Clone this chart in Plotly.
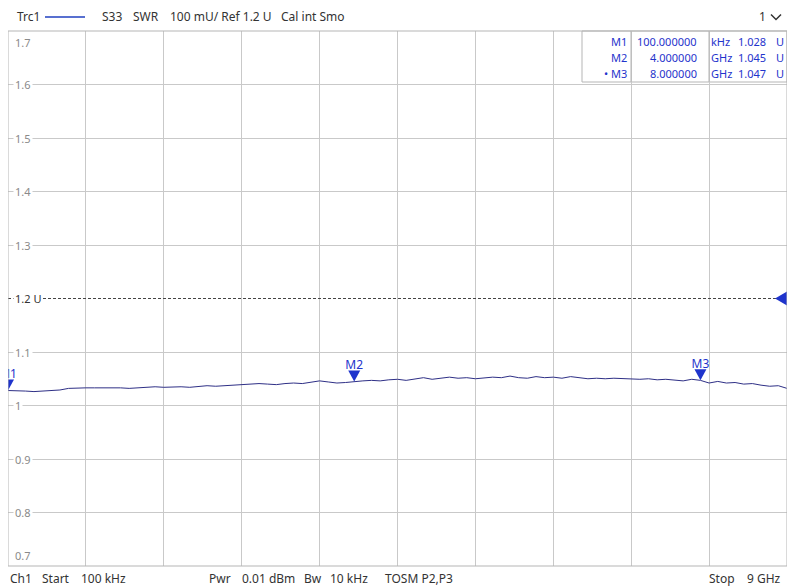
import plotly.graph_objects as go

# ---------------- data ----------------
freq_ghz = [0.0001, 0.1, 0.2, 0.3, 0.4, 0.5, 0.6, 0.7, 0.8, 0.9,
            1.0, 1.1, 1.2, 1.3, 1.4, 1.5, 1.6, 1.7, 1.8, 1.9,
            2.0, 2.1, 2.2, 2.3, 2.4, 2.5, 2.6, 2.7, 2.8, 2.9,
            3.0, 3.1, 3.2, 3.3, 3.4, 3.5, 3.6, 3.7, 3.8, 3.9,
            4.0, 4.1, 4.2, 4.3, 4.4, 4.5, 4.6, 4.7, 4.8, 4.9,
            5.0, 5.1, 5.2, 5.3, 5.4, 5.5, 5.6, 5.7, 5.8, 5.9,
            6.0, 6.1, 6.2, 6.3, 6.4, 6.5, 6.6, 6.7, 6.8, 6.9,
            7.0, 7.1, 7.2, 7.3, 7.4, 7.5, 7.6, 7.7, 7.8, 7.9,
            8.0, 8.1, 8.2, 8.3, 8.4, 8.5, 8.6, 8.7, 8.8, 8.9, 9.0]
swr = [1.028, 1.028, 1.027, 1.026, 1.027, 1.027, 1.029, 1.032, 1.033, 1.033,
       1.033, 1.033, 1.034, 1.033, 1.032, 1.033, 1.034, 1.035, 1.034, 1.035,
       1.035, 1.034, 1.036, 1.037, 1.036, 1.037, 1.038, 1.038, 1.040, 1.041,
       1.040, 1.039, 1.041, 1.042, 1.041, 1.043, 1.046, 1.044, 1.042, 1.043,
       1.045, 1.046, 1.047, 1.046, 1.048, 1.049, 1.047, 1.050, 1.052, 1.049,
       1.051, 1.053, 1.051, 1.052, 1.050, 1.051, 1.053, 1.052, 1.055, 1.052,
       1.051, 1.054, 1.052, 1.053, 1.051, 1.054, 1.052, 1.050, 1.051, 1.050,
       1.051, 1.050, 1.050, 1.049, 1.050, 1.048, 1.049, 1.048, 1.046, 1.049,
       1.047, 1.042, 1.045, 1.042, 1.043, 1.040, 1.041, 1.038, 1.036, 1.037, 1.032]

marker_names = ["M1", "M2", "M3"]
marker_freq = [0.0001, 4.0, 8.0]
marker_vals = [1.028, 1.045, 1.047]
marker_stim = ["100.000000", "4.000000", "8.000000"]
marker_units = ["kHz", "GHz", "GHz"]
marker_prefix = ["M1", "M2", "\u2022 M3"]

ref_level = 1.2
y_ticks = [1.7, 1.6, 1.5, 1.4, 1.3, 1.2, 1.1, 1.0, 0.9, 0.8, 0.7]
y_tick_labels = ["1.7", "1.6", "1.5", "1.4", "1.3", "1.2 U", "1.1", "1", "0.9", "0.8", "0.7"]
f_start, f_stop = 0.0001, 9.0

header_parts = [("Trc1", 15), ("S33", 100), ("SWR", 131), ("100 mU/ Ref 1.2 U", 168), ("Cal int Smo", 279)]
footer_left = [("Ch1", 8), ("Start", 40), ("100 kHz", 79), ("Pwr", 207), ("0.01 dBm", 240),
               ("Bw", 302), ("10 kHz", 328), ("TOSM P2,P3", 383)]
footer_right = [("Stop", 737), ("9 GHz", 783)]

# ---------------- layout constants (page pixels) ----------------
BODY = 8                       # default page margin around the figure
W, H = 795 - BODY, 586 - BODY  # figure size
PL, PR, PT, PB = 8, 787, 31, 566   # plot area in page pixels
L, R, T, B = PL - BODY, W - (PR - BODY), PT - BODY, H - (PB - BODY)
PW, PH = PR - PL, PB - PT
FONT = "Noto Sans"
TXT = "#333333"
GRID = "#c9c9c9"
BLUE = "#1f34cc"
TRACE = "#2e2f86"


def px(xp):
    return (xp - PL) / PW


def py(yp):
    return (PB - yp) / PH


fig = go.Figure()

# main trace
fig.add_trace(go.Scatter(x=freq_ghz, y=swr, mode="lines",
                         line=dict(color=TRACE, width=1), hoverinfo="skip",
                         showlegend=False))

# reference line (dashed)
fig.add_trace(go.Scatter(x=[f_start, f_stop], y=[ref_level, ref_level], mode="lines",
                         line=dict(color="#444444", width=1, dash="3px,2px"),
                         hoverinfo="skip", showlegend=False))

# marker labels (clipped to the plot area)
fig.add_trace(go.Scatter(x=marker_freq, y=marker_vals, mode="markers+text",
                         text=marker_names, textposition="top center",
                         textfont=dict(family=FONT, size=12, color=BLUE),
                         marker=dict(size=14, color="rgba(0,0,0,0)"),
                         cliponaxis=True, hoverinfo="skip", showlegend=False))

shapes = []
# marker table
shapes.append(dict(type="rect", xref="paper", yref="paper", x0=px(582), x1=1, y0=py(82), y1=1,
                   line=dict(color="#b5b5b5", width=1), fillcolor="white", layer="below"))
# marker triangles (tip at data point)
for f, v in zip(marker_freq, marker_vals):
    shapes.append(dict(type="path", xref="x", yref="y", xsizemode="pixel", ysizemode="pixel",
                       xanchor=f, yanchor=v, path="M -6 11 L 6 11 L 0 0 Z",
                       fillcolor=BLUE, line=dict(width=0), layer="above"))
# reference level arrow at right edge
shapes.append(dict(type="path", xref="paper", yref="y", xsizemode="pixel", ysizemode="pixel",
                   xanchor=1, yanchor=ref_level, path="M 0 7 L -12 0 L 0 -7 Z",
                   fillcolor=BLUE, line=dict(width=0), layer="above"))
# plot border
shapes.append(dict(type="rect", xref="paper", yref="paper", x0=0, x1=1, y0=0, y1=1,
                   line=dict(color="#b5b5b5", width=1), layer="above"))
for xv in (631, 709):
    shapes.append(dict(type="line", xref="paper", yref="paper", x0=px(xv), x1=px(xv),
                       y0=py(82), y1=1, line=dict(color="#b5b5b5", width=1), layer="above"))
# header trace-colour line
shapes.append(dict(type="line", xref="paper", yref="paper", x0=px(45), x1=px(85),
                   y0=py(17), y1=py(17), line=dict(color="#2040c0", width=1.5)))
# channel chevron
shapes.append(dict(type="path", xref="paper", yref="paper", xsizemode="pixel", ysizemode="pixel",
                   xanchor=px(776), yanchor=py(17), path="M -5 2.5 L 0 -2.5 L 5 2.5",
                   line=dict(color=TXT, width=1.5)))

annotations = []
for txt, x0 in header_parts:
    annotations.append(dict(text=txt, x=px(x0), y=py(17), xref="paper", yref="paper",
                            xanchor="left", yanchor="middle", showarrow=False,
                            font=dict(family=FONT, size=12, color=TXT)))
annotations.append(dict(text="1", x=px(768), y=py(17), xref="paper", yref="paper",
                        xanchor="right", yanchor="middle", showarrow=False,
                        font=dict(family=FONT, size=12, color=TXT)))
for txt, x0 in footer_left:
    annotations.append(dict(text=txt, x=px(x0), y=py(578), xref="paper", yref="paper",
                            xanchor="left", yanchor="middle", showarrow=False,
                            font=dict(family=FONT, size=12, color=TXT)))
for txt, x0 in footer_right:
    annotations.append(dict(text=txt, x=px(x0), y=py(578), xref="paper", yref="paper",
                            xanchor="right", yanchor="middle", showarrow=False,
                            font=dict(family=FONT, size=12, color=TXT)))

# y labels inside plot
for v, lab in zip(y_ticks, y_tick_labels):
    is_ref = lab.endswith("U")
    if v == y_ticks[0]:
        yanc, ysh = "top", -2
    elif v == y_ticks[-1]:
        yanc, ysh = "bottom", 1
    else:
        yanc, ysh = "middle", 0
    annotations.append(dict(text=lab, x=px(13), y=v, xref="paper", yref="y",
                            xanchor="left", yanchor=yanc, yshift=ysh, showarrow=False,
                            bgcolor="white", borderpad=1,
                            font=dict(family=FONT, size=11,
                                      color="#333333" if is_ref else "#8a8a8a")))

# marker table text
for i in range(len(marker_names)):
    yy = py(41 + 16.5 * i)
    f = dict(family=FONT, size=11, color=BLUE)
    annotations.append(dict(text=marker_prefix[i], x=px(629), y=yy, xref="paper", yref="paper",
                            xanchor="right", yanchor="middle", showarrow=False, font=f))
    annotations.append(dict(text=marker_stim[i], x=px(699), y=yy, xref="paper", yref="paper",
                            xanchor="right", yanchor="middle", showarrow=False, font=f))
    annotations.append(dict(text=marker_units[i], x=px(709), y=yy, xref="paper", yref="paper",
                            xanchor="left", yanchor="middle", showarrow=False, font=f))
    annotations.append(dict(text=f"{marker_vals[i]:.3f}", x=px(768), y=yy, xref="paper",
                            yref="paper", xanchor="right", yanchor="middle", showarrow=False,
                            font=f))
    annotations.append(dict(text="U", x=px(774), y=yy, xref="paper", yref="paper",
                            xanchor="left", yanchor="middle", showarrow=False, font=f))

x_grid = [f_start + i * (f_stop - f_start) / 10 for i in range(11)]
y_grid = [v for v in y_ticks if v != ref_level]

fig.update_layout(
    width=W, height=H,
    margin=dict(l=L, r=R, t=T, b=B, pad=0),
    paper_bgcolor="white", plot_bgcolor="white",
    showlegend=False,
    shapes=shapes, annotations=annotations,
    xaxis=dict(range=[f_start, f_stop], tickvals=x_grid, showticklabels=False,
               showgrid=True, gridcolor=GRID, gridwidth=1, zeroline=False, ticks="",
               fixedrange=True),
    yaxis=dict(range=[0.7, 1.7], tickvals=y_grid, showticklabels=False,
               showgrid=True, gridcolor=GRID, gridwidth=1, zeroline=False, ticks="",
               fixedrange=True),
)

fig.write_html("out.html", config={"displayModeBar": False})
